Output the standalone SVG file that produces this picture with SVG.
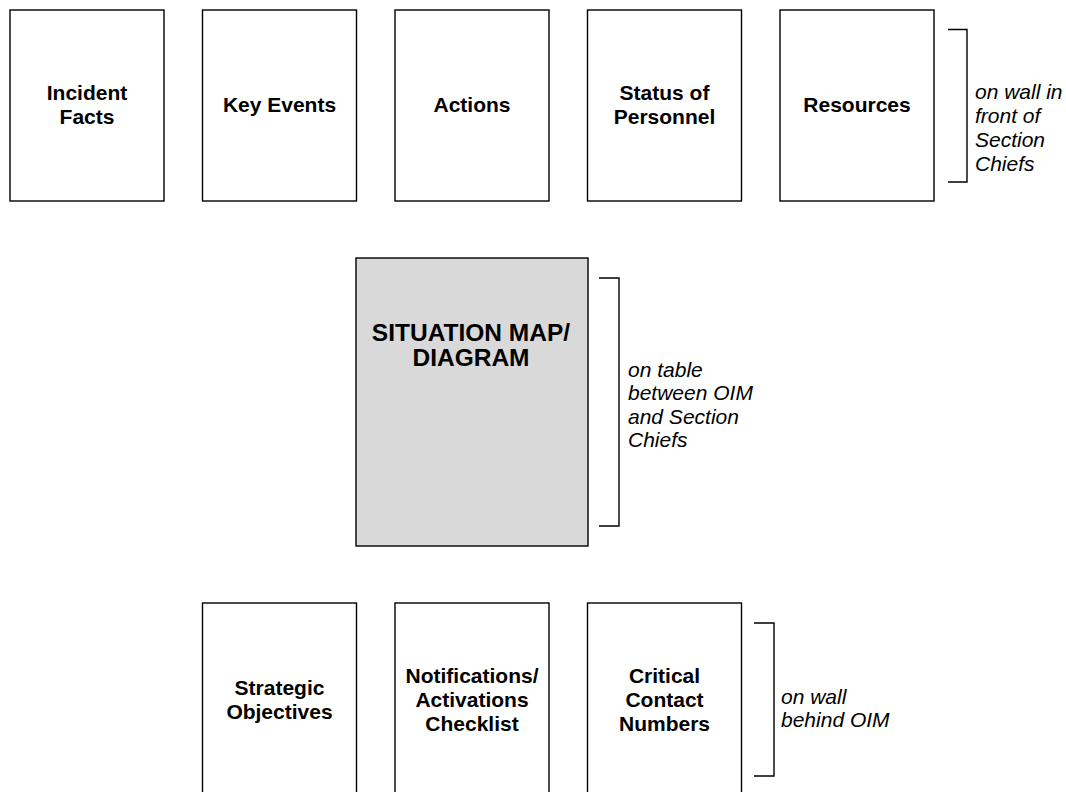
<svg xmlns="http://www.w3.org/2000/svg" width="1066" height="792" viewBox="0 0 1066 792">
  <style>
    .box { fill: #ffffff; stroke: #000000; stroke-width: 1.4; }
    .map { fill: #d9d9d9; stroke: #000000; stroke-width: 1.4; }
    .lbl { font-family: "Liberation Sans", Arial, sans-serif; font-weight: bold; font-size: 21px; fill: #000000; text-anchor: middle; }
    .big { font-size: 24.5px; }
    .note { font-family: "Liberation Sans", Arial, sans-serif; font-style: italic; font-size: 21px; fill: #000000; }
    .brk { fill: none; stroke: #000000; stroke-width: 1.4; }
  </style>
  <rect width="1066" height="792" fill="#ffffff"/>

  <!-- wall boards in front of section chiefs -->
  <g id="incident-facts">
    <rect class="box" x="10" y="10" width="154" height="191"/>
    <text class="lbl" x="87" y="100">Incident</text>
    <text class="lbl" x="87" y="124">Facts</text>
  </g>
  <g id="key-events">
    <rect class="box" x="202.5" y="10" width="154" height="191"/>
    <text class="lbl" x="279.5" y="112">Key Events</text>
  </g>
  <g id="actions">
    <rect class="box" x="395" y="10" width="154" height="191"/>
    <text class="lbl" x="472" y="112">Actions</text>
  </g>
  <g id="status-of-personnel">
    <rect class="box" x="587.5" y="10" width="154" height="191"/>
    <text class="lbl" x="664.5" y="100">Status of</text>
    <text class="lbl" x="664.5" y="124">Personnel</text>
  </g>
  <g id="resources">
    <rect class="box" x="780" y="10" width="154" height="191"/>
    <text class="lbl" x="857" y="112">Resources</text>
  </g>

  <!-- table display -->
  <g id="situation-map">
    <rect class="map" x="356" y="258" width="232" height="288"/>
    <text class="lbl big" x="471" y="341">SITUATION MAP/</text>
    <text class="lbl big" x="471" y="366">DIAGRAM</text>
  </g>

  <!-- wall boards behind OIM -->
  <g id="strategic-objectives">
    <rect class="box" x="202.5" y="603" width="154" height="192"/>
    <text class="lbl" x="279.5" y="695">Strategic</text>
    <text class="lbl" x="279.5" y="719">Objectives</text>
  </g>
  <g id="notifications-checklist">
    <rect class="box" x="395" y="603" width="154" height="192"/>
    <text class="lbl" x="472" y="683">Notifications/</text>
    <text class="lbl" x="472" y="707">Activations</text>
    <text class="lbl" x="472" y="731">Checklist</text>
  </g>
  <g id="critical-contacts">
    <rect class="box" x="587.5" y="603" width="154" height="192"/>
    <text class="lbl" x="664.5" y="683">Critical</text>
    <text class="lbl" x="664.5" y="707">Contact</text>
    <text class="lbl" x="664.5" y="731">Numbers</text>
  </g>

  <!-- location brackets -->
  <g id="connectors">
    <path class="brk" d="M948,29.5 H967 V182 H948"/>
    <path class="brk" d="M599,278 H619 V526 H599"/>
    <path class="brk" d="M754,623 H774 V776 H754"/>
  </g>

  <g id="notes">
    <text class="note" x="975" y="99">on wall in</text>
    <text class="note" x="975" y="123">front of</text>
    <text class="note" x="975" y="147">Section</text>
    <text class="note" x="975" y="171">Chiefs</text>

    <text class="note" x="628" y="377">on table</text>
    <text class="note" x="628" y="400">between OIM</text>
    <text class="note" x="628" y="424">and Section</text>
    <text class="note" x="628" y="447">Chiefs</text>

    <text class="note" x="781" y="704">on wall</text>
    <text class="note" x="781" y="727">behind OIM</text>
  </g>
</svg>
